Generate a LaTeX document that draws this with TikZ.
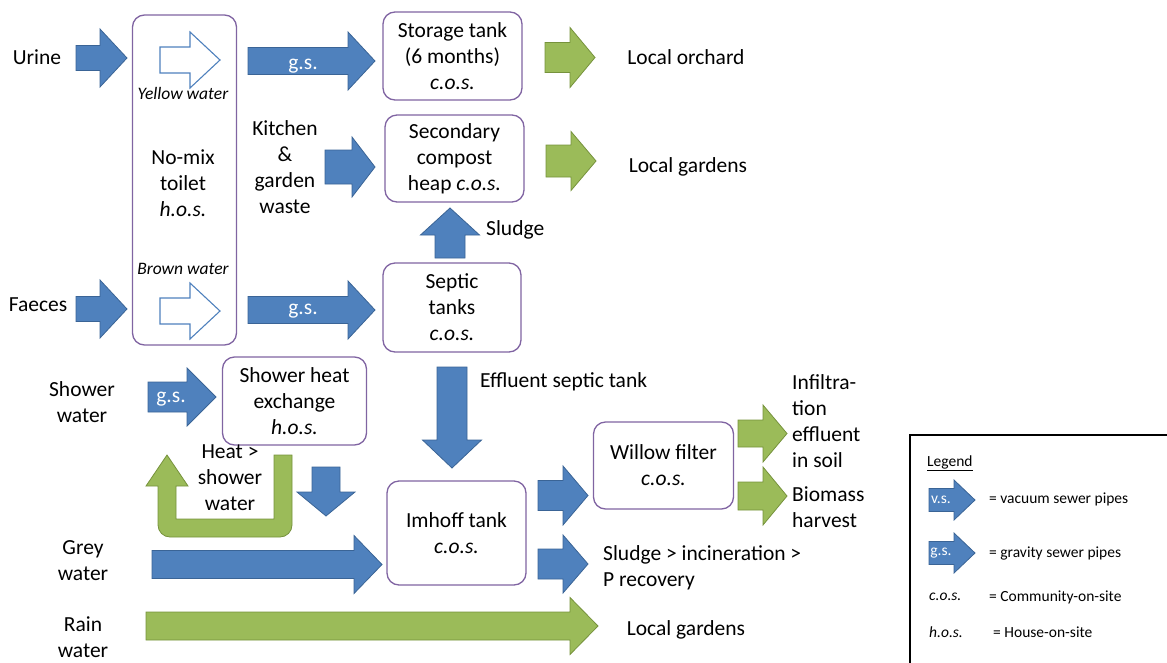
\documentclass[tikz,border=0pt]{standalone}
\usepackage{fontspec}
\setmainfont{Carlito}
\definecolor{flowblue}{HTML}{4F81BD}
\definecolor{flowblueedge}{HTML}{3A6496}
\definecolor{flowgreen}{HTML}{9BBB59}
\definecolor{flowgreenedge}{HTML}{76923C}
\definecolor{boxedge}{HTML}{8064A2}
\newcommand{\fsmain}{\fontsize{21.5}{26}\selectfont}
\newcommand{\fssmall}{\fontsize{17.5}{19}\selectfont}
\newcommand{\fslegend}{\fontsize{15.5}{18}\selectfont}
\tikzset{
  arrowlen/.store in=\alen, arrowbody/.store in=\abody,
  arrowhead/.store in=\ahead, arrowheadlen/.store in=\aheadlen,
  arrowlen=100, arrowbody=14, arrowhead=29, arrowheadlen=27,
  blockarrow/.pic={
    \path[pic actions] (0,-\abody) -- ({\alen-\aheadlen},-\abody)
      -- ({\alen-\aheadlen},-\ahead) -- (\alen,0) -- ({\alen-\aheadlen},\ahead)
      -- ({\alen-\aheadlen},\abody) -- (0,\abody) -- cycle;
  },
  bluearr/.style={fill=flowblue, draw=flowblueedge, line width=0.8pt},
  greenarr/.style={fill=flowgreen, draw=flowgreenedge, line width=0.8pt},
  hollowarr/.style={fill=white, draw=flowblue, line width=1.1pt},
  box/.style={draw=boxedge, line width=1.3pt, rounded corners=12pt,
    align=center, inner sep=0pt, font=\fsmain},
  lbl/.style={align=center, inner sep=0pt, font=\fsmain},
  pipelbl/.style={inner sep=0pt, text=white, font=\fsmain},
  leglbl/.style={anchor=west, inner sep=0pt, font=\fslegend},
}
\begin{document}
\begin{tikzpicture}[x=1pt,y=-1pt]
\useasboundingbox (0,0) rectangle (1167,662);
\clip (0,0) rectangle (1167,662);

% ---- treatment units ----
\node[box, minimum width=104pt, minimum height=330pt] (toilet) at (184.5,180) {};
\node[box, minimum width=139pt, minimum height=88pt] (storage) at (452.5,56)
  {Storage tank\\(6 months)\\\textit{c.o.s.}};
\node[box, minimum width=139pt, minimum height=87pt] (compost) at (454.5,158.5)
  {Secondary\\compost\\heap \textit{c.o.s.}};
\node[box, minimum width=138pt, minimum height=89pt] (septic) at (452,307.5)
  {Septic\\tanks\\\textit{c.o.s.}};
\node[box, minimum width=144pt, minimum height=88pt] (shower) at (294.5,401)
  {Shower heat\\exchange\\\textit{h.o.s.}};
\node[box, minimum width=139pt, minimum height=104pt] (imhoff) at (456.5,533)
  {Imhoff tank\\\textit{c.o.s.}};
\node[box, minimum width=140pt, minimum height=87pt] (willow) at (663.5,465.5)
  {Willow filter\\\textit{c.o.s.}};

% ---- toilet interior ----
\node[lbl] (toilettext) at (183,183) {No-mix\\toilet\\\textit{h.o.s.}};
\node[lbl, font=\fssmall\itshape] (yellow) at (183,93) {Yellow water};
\node[lbl, font=\fssmall\itshape] (brown) at (183,269) {Brown water};
\pic[hollowarr, arrowlen=60, arrowbody=13, arrowhead=28, arrowheadlen=30] at (160,60) {blockarrow};
\pic[hollowarr, arrowlen=60, arrowbody=13, arrowhead=28, arrowheadlen=30] at (160,311) {blockarrow};

% ---- inputs ----
\node[lbl] (urine) at (37,57) {Urine};
\node[lbl] (faeces) at (38,305) {Faeces};
\node[lbl] (showerin) at (82,402) {Shower\\water};
\node[lbl] (grey) at (83,561) {Grey\\water};
\node[lbl] (rain) at (83,637) {Rain\\water};
\node[lbl] (kitchen) at (285,167) {Kitchen\\\&\\garden\\waste};

\pic[bluearr, arrowlen=51, arrowbody=12.5] at (76,58) {blockarrow};
\pic[bluearr, arrowlen=51, arrowbody=12.5] at (76,309) {blockarrow};

% ---- gravity sewer pipes ----
\pic[bluearr, arrowlen=127, arrowbody=13.5] at (248,61) {blockarrow};
\node[pipelbl] (gs1) at (303,66) {g.s.};
\pic[bluearr, arrowlen=127, arrowbody=13.5] at (248,310) {blockarrow};
\node[pipelbl] (gs2) at (303,311) {g.s.};
\pic[bluearr, arrowlen=68, arrowbody=15, arrowhead=29, arrowheadlen=29] at (148,397) {blockarrow};
\node[pipelbl] (gs3) at (171,399) {g.s.};

\pic[bluearr, arrowlen=50, arrowbody=17, arrowhead=30, arrowheadlen=23] at (325,167) {blockarrow};

% ---- outputs to reuse ----
\pic[greenarr, arrowlen=50, arrowbody=15, arrowhead=30, arrowheadlen=25] at (545,57.5) {blockarrow};
\node[lbl] (orchard) at (686,57) {Local orchard};
\pic[greenarr, arrowlen=50, arrowbody=16, arrowhead=29.5, arrowheadlen=25] at (546,161) {blockarrow};
\node[lbl] (gardens1) at (688,167) {Local gardens};

% ---- sludge and effluent ----
\pic[bluearr, rotate=90, arrowlen=50, arrowbody=15, arrowhead=29.5, arrowheadlen=27] at (450,258) {blockarrow};
\node[lbl, anchor=west] (sludge) at (486,230) {Sludge};
\pic[bluearr, rotate=-90, arrowlen=101, arrowbody=15, arrowhead=29.5, arrowheadlen=28] at (452,367) {blockarrow};
\node[lbl, anchor=west] (effluent) at (480,382) {Effluent septic tank};

\pic[bluearr, rotate=-90, arrowlen=49, arrowbody=14, arrowhead=29, arrowheadlen=24] at (326,467) {blockarrow};

% heat recovered back to the shower
\draw[greenarr] (274,455) -- (292,455) [rounded corners=12pt] -- (292,537) -- (158,537)
  [sharp corners] -- (158,486) -- (146,486) -- (167,455) -- (188,486) -- (176,486)
  -- (176,519) -- (274,519) -- cycle;
\node[lbl] (heat) at (230,478) {Heat >\\shower\\water};

\pic[bluearr, arrowlen=230, arrowbody=14, arrowhead=29, arrowheadlen=28] at (152,564.5) {blockarrow};

\pic[bluearr, arrowlen=50, arrowbody=15, arrowhead=29.5, arrowheadlen=25] at (538,495.5) {blockarrow};
\pic[bluearr, arrowlen=50, arrowbody=15, arrowhead=29, arrowheadlen=25] at (538,564) {blockarrow};
\node[lbl, anchor=west, align=left] (incin) at (603,568) {Sludge > incineration >\\P recovery};

\pic[greenarr, arrowlen=49, arrowbody=13.5, arrowhead=28.5, arrowheadlen=24] at (738,433.5) {blockarrow};
\pic[greenarr, arrowlen=49, arrowbody=14, arrowhead=29, arrowheadlen=24] at (738,496) {blockarrow};
\node[lbl, anchor=west, align=left] (infil) at (792,421) {Infiltra-\\tion\\effluent\\in soil};
\node[lbl, anchor=west, align=left] (biomass) at (792,507) {Biomass\\harvest};

\pic[greenarr, arrowlen=452, arrowbody=14, arrowhead=28.5, arrowheadlen=28] at (146,626) {blockarrow};
\node[lbl] (gardens2) at (686,630) {Local gardens};

% ---- legend ----
\draw[line width=1.2pt] (910,435) rectangle (1190,690);
\node[leglbl] (legtitle) at (927,463) {\underline{Legend}};
\pic[bluearr, arrowlen=46, arrowbody=11.5, arrowhead=20, arrowheadlen=21] at (929,500) {blockarrow};
\node[pipelbl, font=\fslegend] (legvs) at (941,500) {v.s.};
\node[leglbl] (legvstext) at (989,499) {= vacuum sewer pipes};
\pic[bluearr, arrowlen=46, arrowbody=11.5, arrowhead=20, arrowheadlen=21] at (929,553) {blockarrow};
\node[pipelbl, font=\fslegend] (leggs) at (941,553) {g.s.};
\node[leglbl] (leggstext) at (989,553) {= gravity sewer pipes};
\node[leglbl] (legcos) at (929,597) {\textit{c.o.s.}};
\node[leglbl] (legcostext) at (989,597) {= Community-on-site};
\node[leglbl] (leghos) at (929,632) {\textit{h.o.s.}};
\node[leglbl] (leghostext) at (993,632) {= House-on-site};
\end{tikzpicture}
\end{document}
